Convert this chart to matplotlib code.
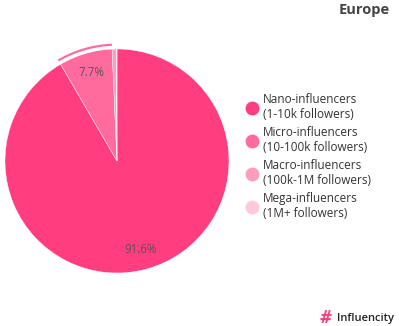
import matplotlib.pyplot as plt
from matplotlib.patches import Wedge
from matplotlib.lines import Line2D

plt.rcParams['font.family'] = ['Open Sans', 'DejaVu Sans']

title = "Europe"
categories = ["Nano-influencers\n(1-10k followers)",
              "Micro-influencers\n(10-100k followers)",
              "Macro-influencers\n(100k-1M followers)",
              "Mega-influencers\n(1M+ followers)"]
shares = [91.6, 7.7, 0.6, 0.1]
colors = ["#FF3D7F", "#FF6B9C", "#FF9DBD", "#FFC9DB"]

W, H = 399, 326
fig = plt.figure(figsize=(W / 100, H / 100), dpi=100)
ax = fig.add_axes([0, 0, 1, 1])
ax.set_xlim(0, W)
ax.set_ylim(0, H)
ax.set_aspect('equal')
ax.axis('off')

cx, cy, r = 117, H - 161, 112

def pct(p):
    return "%.1f%%" % p if p >= 1 else ""

wedges, texts, autotexts = ax.pie(
    shares, colors=colors, startangle=90, counterclock=False,
    center=(cx, cy), radius=r, autopct=pct, pctdistance=0.82,
    wedgeprops=dict(edgecolor="white", linewidth=0.3),
    textprops=dict(color="#555555", fontsize=8.3))
ax.set_xlim(0, W)
ax.set_ylim(0, H)

# hover highlight around the micro slice
w = wedges[1]
ax.add_patch(Wedge((cx, cy), r + 5.5, w.theta1, w.theta2, width=2.2,
                   facecolor=colors[1], edgecolor="none"))

handles = [Line2D([], [], marker='o', linestyle='none', markersize=9,
                  markerfacecolor=c, markeredgecolor=c) for c in colors]
ax.legend(handles, categories, loc="upper left",
          bbox_to_anchor=(246 / W, 1 - 93 / H), frameon=False,
          fontsize=8.5, labelcolor="#333333", handletextpad=0.3,
          labelspacing=0.42, handlelength=1.1, borderpad=0,
          borderaxespad=0)

fig.text(390 / W, 1 - 10 / H, title, ha="right", va="center",
         fontsize=10.5, fontweight="bold", color="#444444")

# logo
fig.text(320 / W, 1 - 318 / H, "#", ha="left", va="center",
         fontsize=13, fontweight="bold", style="italic", color="#FF3D7F")
fig.text(337 / W, 1 - 318 / H, "Influencity", ha="left", va="center",
         fontsize=8, fontweight="semibold", color="#222222")

fig.savefig("out.png", dpi=100)
